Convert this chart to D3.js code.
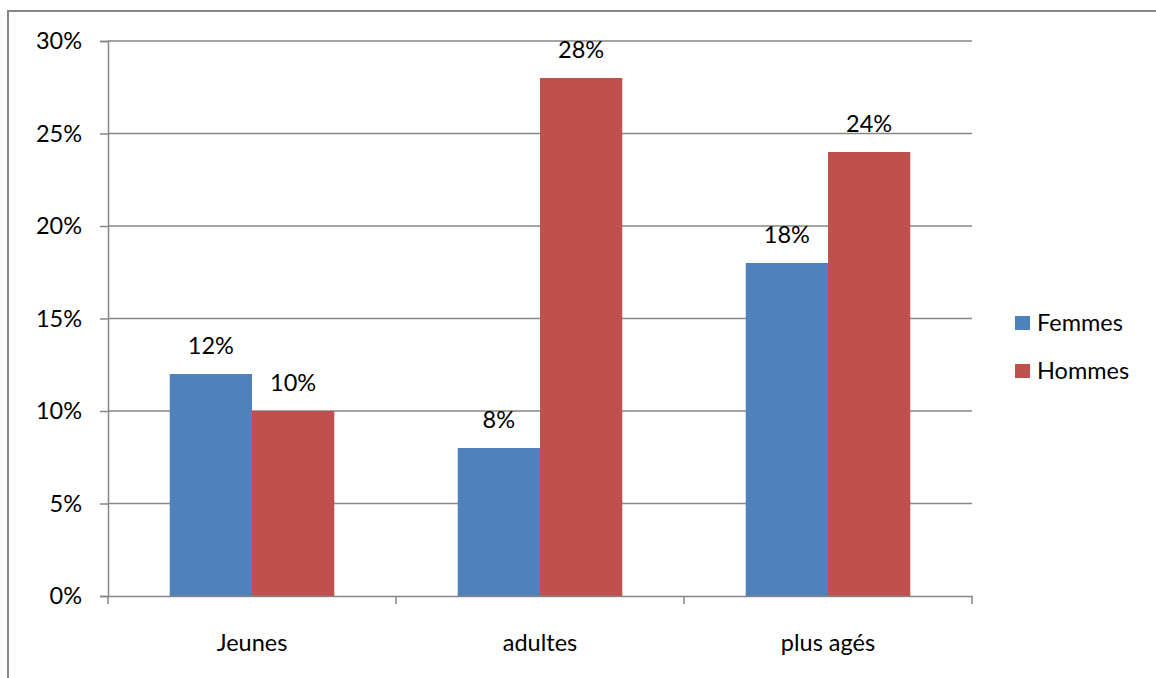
<!DOCTYPE html>
<html>
<head>
<meta charset="utf-8">
<script src="https://cdn.jsdelivr.net/npm/d3@7"></script>
<style>
  html, body { margin: 0; padding: 0; background: #fff; }
  svg { display: block; }
  text { font-family: Lato, "Open Sans", sans-serif; fill: #000; }
</style>
</head>
<body>
<script>
// Share by age group and sex
const categories = ["Jeunes", "adultes", "plus agés"];
const seriesNames = ["Femmes", "Hommes"];
const femmes = [12, 8, 18];
const hommes = [10, 28, 24];
const yTicks = [0, 5, 10, 15, 20, 25, 30];
const colors = ["#4F81BD", "#C0504D"];

const W = 1156, H = 678;
const plot = { left: 108, right: 972, top: 41, bottom: 596 };
const fontSize = 23.5;

const svg = d3.select("body").append("svg").attr("width", W).attr("height", H);

// outer chart frame (runs off the right and bottom edges)
svg.append("rect")
  .attr("x", 8).attr("y", 11)
  .attr("width", W + 20).attr("height", H + 20)
  .attr("fill", "none").attr("stroke", "#878787").attr("stroke-width", 2);

const x0 = d3.scaleBand().domain(categories).range([plot.left, plot.right]).paddingInner(0).paddingOuter(0);
const y = d3.scaleLinear().domain([0, 30]).range([plot.bottom, plot.top]);
// two bars per group, 150% gap
const barW = x0.bandwidth() / 3.5;
const x1 = d3.scaleBand().domain(seriesNames).range([0, barW * 2]).padding(0);

// horizontal gridlines
svg.append("g").selectAll("line").data(yTicks.filter(t => t > 0)).join("line")
  .attr("x1", plot.left).attr("x2", plot.right)
  .attr("y1", d => y(d)).attr("y2", d => y(d))
  .attr("stroke", "#868686").attr("stroke-width", 1.5);

// y axis
const yAxis = svg.append("g").attr("transform", `translate(${plot.left},0)`)
  .call(d3.axisLeft(y).tickValues(yTicks).tickFormat(d => d + "%").tickSize(8).tickPadding(18));
yAxis.select(".domain").attr("stroke", "#868686").attr("stroke-width", 1.5);
yAxis.selectAll(".tick line").attr("stroke", "#868686").attr("stroke-width", 1.5);
yAxis.selectAll(".tick text").style("font-size", fontSize + "px").style("font-family", "Lato").attr("fill", "#000");

// bars
const rows = categories.map((c, i) => ({ cat: c, vals: [femmes[i], hommes[i]] }));
const groups = svg.append("g").selectAll("g").data(rows).join("g")
  .attr("transform", d => `translate(${x0(d.cat) + (x0.bandwidth() - barW * 2) / 2},0)`);

groups.selectAll("rect").data(d => d.vals.map((v, j) => ({ s: seriesNames[j], v, j }))).join("rect")
  .attr("x", d => x1(d.s)).attr("width", x1.bandwidth())
  .attr("y", d => y(d.v)).attr("height", d => y(0) - y(d.v))
  .attr("fill", d => colors[d.j]);

groups.selectAll("text").data(d => d.vals.map((v, j) => ({ s: seriesNames[j], v, j }))).join("text")
  .attr("x", d => x1(d.s) + x1.bandwidth() / 2)
  .attr("y", d => y(d.v) - 20)
  .attr("text-anchor", "middle")
  .style("font-size", fontSize + "px")
  .text(d => d.v + "%");

// x axis
const xAxis = svg.append("g").attr("transform", `translate(0,${plot.bottom})`)
  .call(d3.axisBottom(x0).tickSize(0).tickPadding(38));
xAxis.select(".domain").attr("stroke", "#868686").attr("stroke-width", 1.5);
xAxis.selectAll(".tick text").style("font-size", fontSize + "px").style("font-family", "Lato").attr("fill", "#000");
// category boundary ticks
const bounds = categories.map(c => x0(c)).concat([plot.right]);
xAxis.append("g").selectAll("line").data(bounds).join("line")
  .attr("x1", d => d).attr("x2", d => d).attr("y1", 0).attr("y2", 8)
  .attr("stroke", "#868686").attr("stroke-width", 1.5);

// legend
const legend = svg.append("g").selectAll("g").data(seriesNames).join("g")
  .attr("transform", (d, i) => `translate(1015,${323 + i * 48})`);
legend.append("rect").attr("x", 0).attr("y", -7).attr("width", 15).attr("height", 14)
  .attr("fill", (d, i) => colors[i]);
legend.append("text").attr("x", 22).attr("dy", "0.35em")
  .style("font-size", fontSize + "px").text(d => d);
</script>
</body>
</html>
